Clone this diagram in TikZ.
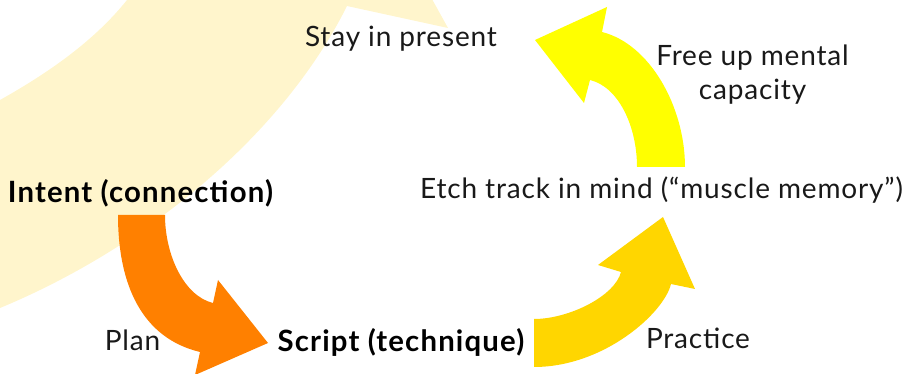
\documentclass[tikz,border=0pt]{standalone}
\usepackage{fontspec}
\setmainfont{Lato}
\usetikzlibrary{positioning}
\definecolor{paleyellow}{RGB}{255,245,204}
\definecolor{planorange}{RGB}{255,128,0}
\definecolor{practicegold}{RGB}{255,214,0}
\definecolor{freeyellow}{RGB}{255,255,0}

\begin{document}
\begin{tikzpicture}[x=0.75pt,y=-0.75pt]
		\tikzset{
  phase/.style={
         font=\fontsize{21}{25.5}\selectfont\addfontfeatures{LetterSpace=3},
         inner sep=0,
         text=black!90,
         anchor=base,
         align=center,
         },
  key/.style={
         phase,
         font=\fontsize{22}{25.5}\selectfont\bfseries\addfontfeatures{LetterSpace=4},
         text=black,
         },
}
    \useasboundingbox (0,0) rectangle (908,374);

    \begin{scope}
      \clip (0,0) rectangle (908,374);
      \fill[paleyellow] (0,100) .. controls (50,72) and (95,40) .. (127,0)
        -- (130,-10) -- (427,-10) -- (448,28) -- (347,6)
        .. controls (280,140) and (140,250) .. (0,308) -- cycle;
      \fill[planorange] (118,215) .. controls (118,285) and (142,338) .. (200,352)
        -- (195,375) -- (268,343) -- (218,280) -- (213,303)
        .. controls (184,296) and (165,255) .. (165,215) -- cycle;
    \end{scope}

    \fill[practicegold] (534,367) .. controls (604,367) and (664,313) .. (671,284)
      -- (695,289) -- (663,217) -- (598,265) -- (621,272)
      .. controls (615,296) and (569,319) .. (534,319) -- cycle;

    \fill[freeyellow] (685,167) .. controls (685,107) and (650,44) .. (602,32)
      -- (607,7) -- (535,40) -- (584,103) -- (590,80)
      .. controls (619,87) and (637,127) .. (637,167) -- cycle;

    \node[key] (intent) at (140.5,203) {Intent (connection)};
    \node[key] (script) at (401,352) {Script (technique)};
    \node[phase] (etch) at (661.5,199) {Etch track in mind (“muscle memory”)};
    \node[phase] (stay) at (401,47) {Stay in present};

    \node[phase] (plan) at (132.5,350) {Plan};
    \node[phase] (practice) at (698,349) {Practice};
    \node[phase] (freeup) at (752.5,100) {Free up mental\\capacity};

	\end{tikzpicture}
\end{document}
